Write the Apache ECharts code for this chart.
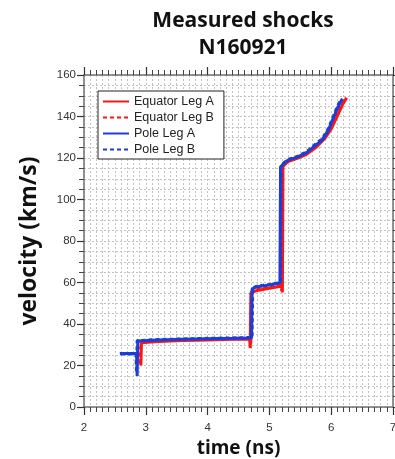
<!DOCTYPE html>
<html>
<head>
<meta charset="utf-8">
<script src="https://cdn.jsdelivr.net/npm/echarts@6/dist/echarts.min.js"></script>
<style>
  html, body { margin: 0; padding: 0; background: #fff; }
  #chart { width: 395px; height: 459px; }
</style>
</head>
<body>
<div id="chart"></div>
<script>
// Shock velocity (km/s) versus time (ns) for each leg of shot N160921
const seriesNames = ['Equator Leg A', 'Equator Leg B', 'Pole Leg A', 'Pole Leg B'];

const equatorLegA = [
  [2.92, 20.0], [2.93, 31.0], [3.2, 31.6], [3.6, 32.0], [4.0, 32.3], [4.4, 32.6],
  [4.68, 32.8], [4.69, 28.4], [4.70, 55.0], [4.78, 56.0], [5.0, 57.2], [5.20, 58.3],
  [5.21, 55.2], [5.22, 116.0], [5.3, 118.3], [5.45, 119.8], [5.6, 121.8], [5.75, 125.0],
  [5.9, 129.5], [6.0, 134.0], [6.1, 140.3], [6.18, 145.5], [6.25, 149.0]
];
const equatorLegB = [
  [2.91, 21.0], [2.92, 31.5], [3.2, 31.9], [3.6, 32.3], [4.0, 32.6], [4.4, 32.9],
  [4.69, 33.0], [4.70, 30.0], [4.71, 55.5], [4.78, 56.5], [5.0, 57.6], [5.19, 58.6],
  [5.20, 56.0], [5.21, 116.5], [5.3, 118.6], [5.45, 120.1], [5.6, 122.2], [5.75, 125.6],
  [5.9, 130.3], [6.0, 135.0], [6.1, 141.2], [6.17, 146.0], [6.23, 149.2]
];
const poleLegA = [
  [2.58, 25.8], [2.85, 25.8], [2.86, 15.0], [2.87, 31.8], [3.2, 32.3], [3.6, 32.6],
  [4.0, 32.9], [4.4, 33.1], [4.71, 33.3], [4.72, 56.8], [4.78, 57.8], [5.0, 58.8],
  [5.17, 59.8], [5.18, 115.6], [5.22, 117.0], [5.3, 119.0], [5.45, 120.4], [5.6, 122.6],
  [5.75, 126.2], [5.86, 128.8], [5.95, 133.2], [6.04, 139.6], [6.1, 144.0], [6.18, 148.6]
];
const poleLegB = [
  [2.60, 25.5], [2.84, 25.5], [2.85, 16.5], [2.86, 32.0], [3.2, 32.5], [3.6, 32.8],
  [4.0, 33.1], [4.4, 33.3], [4.72, 33.5], [4.73, 57.3], [4.8, 58.2], [5.0, 59.1],
  [5.18, 60.0], [5.19, 116.0], [5.23, 117.5], [5.3, 119.3], [5.45, 120.7], [5.6, 123.0],
  [5.75, 126.8], [5.86, 129.5], [5.95, 134.0], [6.04, 140.5], [6.1, 145.0], [6.16, 148.3]
];

const xTicks = [2, 3, 4, 5, 6, 7];
const yTicks = [0, 20, 40, 60, 80, 100, 120, 140, 160];

const RED = '#ff1414';
const BLUE = '#1b3fd6';
const labelFont = '"Liberation Sans", Arial, sans-serif';
const titleFont = '"Open Sans", "Noto Sans", sans-serif';

const gridDot = { show: true, lineStyle: { color: '#c4c4c4', width: 1, type: [2, 2] } };

function xAxisDef(position, showLabels) {
  return {
    type: 'value', position: position, min: xTicks[0], max: xTicks[xTicks.length - 1], interval: 1,
    axisLine: { show: true, onZero: false, lineStyle: { color: '#707070', width: 1.5 } },
    axisTick: { show: true, inside: false, length: 8, lineStyle: { color: '#333', width: 1.2 } },
    minorTick: { show: true, splitNumber: 10, length: 5, lineStyle: { color: '#444', width: 1 } },
    splitLine: showLabels ? gridDot : { show: false },
    minorSplitLine: showLabels ? gridDot : { show: false },
    axisLabel: { show: showLabels, color: '#333', fontSize: 11.5, fontFamily: labelFont, margin: 15 },
    name: showLabels ? 'time (ns)' : '',
    nameLocation: 'middle', nameGap: 32,
    nameTextStyle: { fontSize: 19, fontWeight: 'bold', color: '#111', fontFamily: titleFont }
  };
}

function yAxisDef(position, showLabels) {
  return {
    type: 'value', position: position, min: yTicks[0], max: yTicks[yTicks.length - 1], interval: 20,
    axisLine: { show: true, onZero: false, lineStyle: { color: '#707070', width: 1.5 } },
    axisTick: { show: true, inside: false, length: 7, lineStyle: { color: '#333', width: 1.2 } },
    minorTick: { show: true, splitNumber: 4, length: 5, lineStyle: { color: '#444', width: 1 } },
    splitLine: showLabels ? gridDot : { show: false },
    minorSplitLine: showLabels ? gridDot : { show: false },
    axisLabel: { show: showLabels, color: '#333', fontSize: 11.5, fontFamily: labelFont, margin: 8 },
    name: showLabels ? 'velocity (km/s)' : '',
    nameLocation: 'middle', nameGap: 43, nameRotate: 90,
    nameTextStyle: { fontSize: 23, fontWeight: 'bold', color: '#111', fontFamily: titleFont }
  };
}

function lineSeries(name, data, color, dashed) {
  return {
    name: name, type: 'line', data: data, showSymbol: false, symbol: 'none',
    xAxisIndex: 0, yAxisIndex: 0, animation: false,
    lineStyle: { color: color, width: 3, type: dashed ? [4, 3] : 'solid' },
    itemStyle: { color: color }
  };
}

const chart = echarts.init(document.getElementById('chart'), null, { renderer: 'canvas' });
chart.setOption({
  animation: false,
  backgroundColor: '#fff',
  title: {
    text: 'Measured shocks\nN160921',
    left: 238, top: 3, textAlign: 'center',
    textStyle: { fontSize: 21, fontWeight: 'bold', color: '#111', fontFamily: titleFont, lineHeight: 27 }
  },
  grid: { left: 84, right: 2, top: 75, bottom: 52, outerBoundsMode: 'none', containLabel: false },
  legend: {
    show: true,
    data: seriesNames,
    orient: 'vertical', left: 98, top: 91,
    padding: [4, 10, 3, 4], itemGap: 3,
    itemWidth: 26, itemHeight: 13,
    backgroundColor: '#fff', borderColor: '#222', borderWidth: 1,
    itemStyle: { opacity: 0, borderWidth: 0 },
    textStyle: { fontSize: 12.5, color: '#222', fontFamily: labelFont }
  },
  xAxis: [xAxisDef('bottom', true), xAxisDef('top', false)],
  yAxis: [yAxisDef('left', true), yAxisDef('right', false)],
  series: [
    lineSeries(seriesNames[0], equatorLegA, RED, false),
    lineSeries(seriesNames[1], equatorLegB, RED, true),
    lineSeries(seriesNames[2], poleLegA, BLUE, false),
    lineSeries(seriesNames[3], poleLegB, BLUE, true)
  ]
});
</script>
</body>
</html>
